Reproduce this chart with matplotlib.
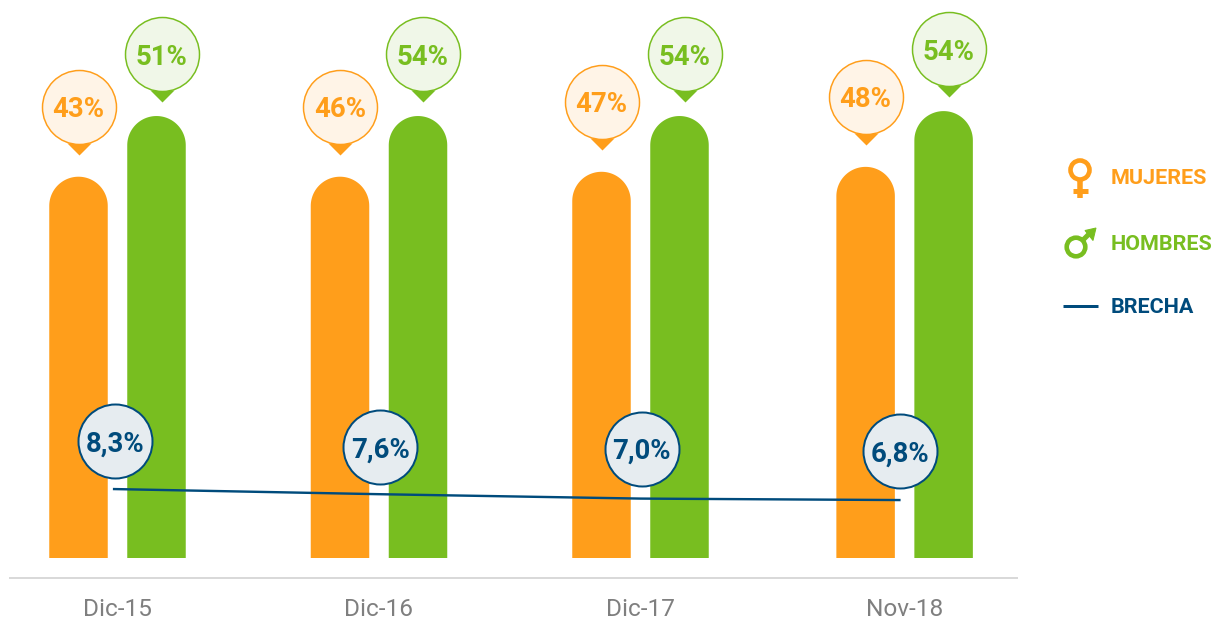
import matplotlib
matplotlib.use('Agg')
import matplotlib.pyplot as plt
import numpy as np
from matplotlib.patches import Circle, Polygon
from matplotlib.transforms import offset_copy

plt.rcParams['font.family'] = ['Roboto', 'DejaVu Sans']

# ----------- Data ------------
fechas = ['Dic-15', 'Dic-16', 'Dic-17', 'Nov-18']
etiquetas_mujeres = [43, 46, 47, 48]
etiquetas_hombres = [51, 54, 54, 54]
# the drawn bars do not follow the printed labels exactly, so heights are read off the picture
alturas_mujeres = [46.5, 46.5, 47.1, 47.7]
alturas_hombres = [53.9, 53.9, 53.9, 54.5]
brecha = [8.3, 7.6, 7.0, 6.8]

NARANJA = '#FF9E1B'
VERDE = '#78BE20'
AZUL = '#004B7C'
GRIS = '#7F7F7F'

W, H = 1215, 620
PX_Y = 8.2      # pixels per bar unit
PX_X = 261.5    # pixels per category

x_grupos = [0, 1, 2, 3.01]
x_brecha = [-0.013, 1, 2, 2.99]
dy_brecha = [48, 47, 50, 49]
SEP = 39 / PX_X
ANCHO = 58.5 / PX_X


# ----------- Helpers ------------
def px(v):
    """pixels -> points"""
    return v * 72 / 100


def barra(ax, x, h, color):
    """Bar with a round top, one closed outline in data units so there is no seam"""
    rx = ANCHO / 2
    ry = ANCHO * PX_X / 2 / PX_Y
    t = np.linspace(0, np.pi, 60)
    xs = np.r_[x + rx, x + rx * np.cos(t), x - rx]
    ys = np.r_[0, h - ry + ry * np.sin(t), 0]
    ax.add_patch(Polygon(np.c_[xs, ys], closed=True, facecolor=color, linewidth=0, zorder=2))


def globo(ax, x, y, dx, dy, texto, color, fondo, pin=True, lw=1.5):
    """Round label placed dx, dy pixels away from the data point"""
    centro = offset_copy(ax.transData, fig=ax.figure, x=dx, y=dy, units='dots')
    if pin:
        base = offset_copy(ax.transData, fig=ax.figure, x=dx, y=dy - 36, units='dots')
        ax.plot([x], [y], transform=base, marker=[(-1, 0), (1, 0), (0, -1)], ms=px(24),
                color=color, mew=0, zorder=4, clip_on=False)
    ax.plot([x], [y], transform=centro, marker='o', ms=px(74), mfc=fondo, mec=color,
            mew=px(lw), zorder=5, clip_on=False)
    ax.text(x, y, texto, transform=centro, ha='center', va='center_baseline', color=color,
            fontsize=px(27.5), fontweight='bold', zorder=6)


# ----------- Plot ------------
fig = plt.figure(figsize=(W / 100, H / 100), dpi=100, facecolor='white')
ax = fig.add_axes([9 / W, (H - 578) / H, (1018 - 9) / W, 578 / H])
ax.set_xlim(-108.5 / PX_X, 900.5 / PX_X)
ax.set_ylim(-20 / PX_Y, 558 / PX_Y)
ax.patch.set_visible(False)

for i in range(len(fechas)):
    barra(ax, x_grupos[i] - SEP, alturas_mujeres[i], NARANJA)
    barra(ax, x_grupos[i] + SEP, alturas_hombres[i], VERDE)
    globo(ax, x_grupos[i] - SEP, alturas_mujeres[i], 0, 70, '%d%%' % etiquetas_mujeres[i], NARANJA, '#FFF4E7')
    globo(ax, x_grupos[i] + SEP, alturas_hombres[i], 5, 62, '%d%%' % etiquetas_hombres[i], VERDE, '#F0F7E8')

for s in ['top', 'left', 'right']:
    ax.spines[s].set_visible(False)
ax.spines['bottom'].set_color('#D9D9D9')
ax.spines['bottom'].set_linewidth(px(2))
ax.spines['bottom'].set_capstyle('butt')
ax.set_yticks([])
ax.set_xticks(x_grupos)
ax.set_xticklabels(fechas, color=GRIS, fontsize=px(24.4))
ax.tick_params(axis='x', length=0, pad=px(20.5))

# gap line has its own scale, 8,3 -> y=489 and 6,8 -> y=500
ax2 = ax.twinx()
ESC = 7.33
ax2.set_ylim((-20 - 8.1) / ESC, (558 - 8.1) / ESC)
ax2.axis('off')
ax2.plot(x_brecha, brecha, color=AZUL, lw=px(2.4), zorder=3)
for i in range(len(fechas)):
    globo(ax2, x_brecha[i], brecha[i], 1, dy_brecha[i], ('%.1f%%' % brecha[i]).replace('.', ','),
          AZUL, '#E6ECF0', pin=False, lw=2)

# ----------- Legend, in pixel coordinates ------------
ley = fig.add_axes([0, 0, 1, 1])
ley.set_xlim(0, W)
ley.set_ylim(H, 0)
ley.axis('off')

ley.add_patch(Circle((1080, 170), 9.5, facecolor='none', edgecolor=NARANJA, lw=px(4.6)))
ley.plot([1080, 1080], [181, 198], color=NARANJA, lw=px(5.5), solid_capstyle='butt')
ley.plot([1072.5, 1087.5], [190.5, 190.5], color=NARANJA, lw=px(5), solid_capstyle='butt')

ley.add_patch(Circle((1076, 247), 9.3, facecolor='none', edgecolor=VERDE, lw=px(4.6)))
ley.plot([1082, 1091], [241, 232], color=VERDE, lw=px(5), solid_capstyle='butt')
ley.add_patch(Polygon([(1085, 230.5), (1096, 228), (1093, 240.5)], facecolor=VERDE, edgecolor=VERDE, lw=px(1)))

ley.plot([1063, 1098], [306, 306], color=AZUL, lw=px(3), solid_capstyle='butt')

for nombre, y, c in [('MUJERES', 177, NARANJA), ('HOMBRES', 243, VERDE), ('BRECHA', 305.5, AZUL)]:
    ley.text(1111, y, nombre, color=c, fontsize=px(21.5), fontweight='bold', va='center_baseline')

fig.savefig('out.png', dpi=100)
